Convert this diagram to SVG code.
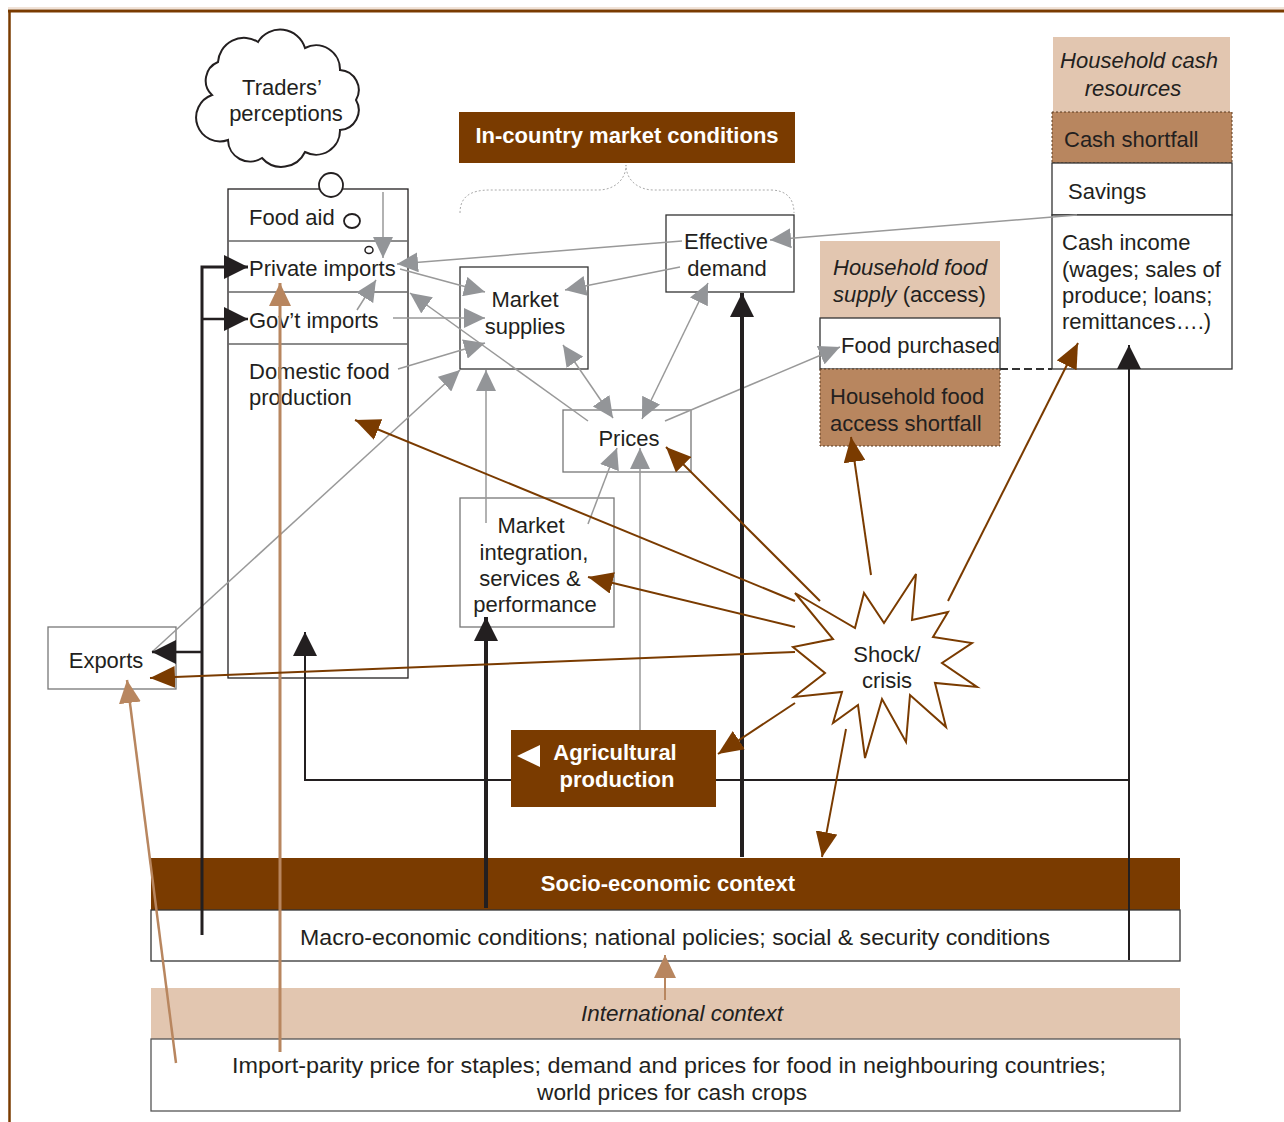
<svg xmlns="http://www.w3.org/2000/svg" width="1284" height="1122" viewBox="0 0 1284 1122">
<style>
text{font-family:"Liberation Sans",Arial,sans-serif;font-size:22px;fill:#231f20}
.b{font-weight:bold;fill:#fff}
.i{font-style:italic}
.box{fill:#fff;stroke:#333;stroke-width:1.3}
.gbox{fill:#fff;stroke:#777;stroke-width:1.3}
.div{stroke:#666;stroke-width:1.5}
.dk{fill:#7a3b00}
.tan{fill:#e2c6b0}
.mid{fill:#b8865f;stroke:#5a3a20;stroke-width:1;stroke-dasharray:2,2}
.g{stroke:#999;stroke-width:1.5;fill:none;marker-end:url(#ag)}
.g2{stroke:#999;stroke-width:1.5;fill:none;marker-end:url(#ag);marker-start:url(#ag)}
.k{stroke:#231f20;fill:none}
.br{stroke:#7a3b00;stroke-width:2;fill:none;marker-end:url(#ab)}
.t{stroke:#b8865f;fill:none;marker-end:url(#at)}
</style>
<defs>
<marker id="ag" markerUnits="userSpaceOnUse" markerWidth="22" markerHeight="20" refX="21" refY="10" orient="auto-start-reverse"><path d="M0,0 L21,10 L0,20 z" fill="#939598"/></marker>
<marker id="ak" markerUnits="userSpaceOnUse" markerWidth="24" markerHeight="24" refX="24" refY="12" orient="auto"><path d="M0,0 L24,12 L0,24 z" fill="#231f20"/></marker>
<marker id="ab" markerUnits="userSpaceOnUse" markerWidth="26" markerHeight="22" refX="25" refY="11" orient="auto"><path d="M0,0 L25,11 L0,22 z" fill="#7a3b00"/></marker>
<marker id="at" markerUnits="userSpaceOnUse" markerWidth="24" markerHeight="22" refX="23" refY="11" orient="auto"><path d="M0,0 L23,11 L0,22 z" fill="#b8865f"/></marker>
</defs>

<g id="frame">
<line x1="8" y1="8" x2="1284" y2="8" stroke="#e2c6b0" stroke-width="1"/>
<line x1="8" y1="11" x2="1284" y2="11" stroke="#7a3b00" stroke-width="3"/>
<line x1="9.5" y1="10" x2="9.5" y2="1122" stroke="#7a3b00" stroke-width="2.5"/>
</g>

<g id="traders-perceptions">
<path d="M212,95 A20,20 0 0 1 218,62 A26,26 0 0 1 258,42 A26,26 0 0 1 305,48 A24,24 0 0 1 340,70 A20,20 0 0 1 356,100 A20,20 0 0 1 340,130 A24,24 0 0 1 305,152 A26,26 0 0 1 262,158 A22,22 0 0 1 228,140 A22,22 0 0 1 212,95 z" fill="#fff" stroke="#231f20" stroke-width="2"/>
<text x="282" y="95" text-anchor="middle">Traders’</text>
<text x="286" y="121" text-anchor="middle">perceptions</text>
</g>

<g id="in-country-market-conditions">
<rect x="459" y="112" width="336" height="51" class="dk"/>
<text x="627" y="143" text-anchor="middle" class="b">In-country market conditions</text>
<path d="M460,213 C460,197 470,190 490,190 L598,190 C614,190 626,180 626,165 C626,180 638,190 654,190 L770,190 C786,190 794,198 794,213" fill="none" stroke="#aaa" stroke-width="1" stroke-dasharray="2,2"/>
</g>

<g id="food-column">
<rect x="228" y="189" width="180" height="489" fill="#fff" stroke="#231f20" stroke-width="1.3"/>
<line x1="228" y1="241" x2="408" y2="241" class="div"/>
<line x1="228" y1="292" x2="408" y2="292" class="div"/>
<line x1="228" y1="344" x2="408" y2="344" class="div"/>
<circle cx="331" cy="185" r="12" fill="#fff" stroke="#231f20" stroke-width="1.8"/>
<ellipse cx="352" cy="221" rx="8" ry="7" fill="none" stroke="#231f20" stroke-width="1.8"/>
<ellipse cx="369" cy="250" rx="4" ry="3.5" fill="none" stroke="#231f20" stroke-width="1.5"/>
<text x="249" y="225">Food aid</text>
<text x="249" y="276">Private imports</text>
<text x="249" y="328">Gov’t imports</text>
<text x="249" y="379">Domestic food</text>
<text x="249" y="405">production</text>
</g>

<g id="exports">
<rect x="48" y="627" width="128" height="62" class="gbox"/>
<text x="106" y="668" text-anchor="middle">Exports</text>
</g>

<g id="market-supplies">
<rect x="460" y="267" width="128" height="102" class="box"/>
<text x="525" y="307" text-anchor="middle">Market</text>
<text x="525" y="334" text-anchor="middle">supplies</text>
</g>

<g id="effective-demand">
<rect x="666" y="215" width="128" height="77" class="box"/>
<text x="726" y="249" text-anchor="middle">Effective</text>
<text x="727" y="276" text-anchor="middle">demand</text>
</g>

<g id="prices">
<rect x="563" y="410" width="128" height="62" class="gbox"/>
<text x="629" y="446" text-anchor="middle">Prices</text>
</g>

<g id="market-integration">
<rect x="460" y="498" width="154" height="129" class="gbox"/>
<text x="531" y="533" text-anchor="middle">Market</text>
<text x="534" y="560" text-anchor="middle">integration,</text>
<text x="530" y="586" text-anchor="middle">services &amp;</text>
<text x="535" y="612" text-anchor="middle">performance</text>
</g>

<g id="household-food-supply">
<rect x="820" y="241" width="180" height="77" class="tan"/>
<text x="833" y="275" class="i">Household food</text>
<text x="833" y="302"><tspan class="i">supply</tspan> (access)</text>
<rect x="820" y="318" width="180" height="51" class="box"/>
<text x="841" y="353">Food purchased</text>
<rect x="820" y="369" width="180" height="77" class="mid"/>
<text x="830" y="404">Household food</text>
<text x="830" y="431">access shortfall</text>
</g>

<g id="household-cash-resources">
<rect x="1053" y="37" width="177" height="75" class="tan"/>
<text x="1139" y="68" text-anchor="middle" class="i">Household cash</text>
<text x="1133" y="96" text-anchor="middle" class="i">resources</text>
<rect x="1052" y="112" width="180" height="51" class="mid"/>
<text x="1064" y="147">Cash shortfall</text>
<rect x="1052" y="163" width="180" height="52" class="box"/>
<text x="1068" y="199">Savings</text>
<rect x="1052" y="215" width="180" height="154" class="box"/>
<text x="1062" y="250">Cash income</text>
<text x="1062" y="277">(wages; sales of</text>
<text x="1062" y="303">produce; loans;</text>
<text x="1062" y="329">remittances….)</text>
</g>

<g id="agricultural-production">
<rect x="511" y="730" width="205" height="77" class="dk"/>
<path d="M517,756 L540,745 L540,767 z" fill="#fff"/>
<text x="615" y="760" text-anchor="middle" class="b">Agricultural</text>
<text x="617" y="787" text-anchor="middle" class="b">production</text>
</g>

<g id="shock-crisis">
<polygon points="795,593 855,628 864,593 884,623 916,574 912,620 948,612 933,637 972,643 942,663 977,687 935,683 946,727 910,695 906,742 882,699 865,758 858,705 833,723 842,692 794,697 825,673 793,647 833,639" fill="#fff" stroke="#7a3b00" stroke-width="2"/>
<text x="887" y="662" text-anchor="middle">Shock/</text>
<text x="887" y="688" text-anchor="middle">crisis</text>
</g>

<g id="socio-economic-context">
<rect x="151" y="858" width="1029" height="52" class="dk"/>
<text x="668" y="891" text-anchor="middle" class="b">Socio-economic context</text>
<rect x="151" y="910" width="1029" height="51" fill="#fff" stroke="#333" stroke-width="1.3"/>
<text x="675" y="945" text-anchor="middle" textLength="750" lengthAdjust="spacingAndGlyphs">Macro-economic conditions; national policies; social &amp; security conditions</text>
</g>

<g id="international-context">
<rect x="151" y="988" width="1029" height="51" class="tan"/>
<text x="682" y="1021" text-anchor="middle" class="i" textLength="202" lengthAdjust="spacingAndGlyphs">International context</text>
<rect x="151" y="1039" width="1029" height="72" fill="#fff" stroke="#555" stroke-width="1.3"/>
<text x="669" y="1073" text-anchor="middle" textLength="874" lengthAdjust="spacingAndGlyphs">Import-parity price for staples; demand and prices for food in neighbouring countries;</text>
<text x="672" y="1100" text-anchor="middle" textLength="270" lengthAdjust="spacingAndGlyphs">world prices for cash crops</text>
</g>

<g id="connectors">
<line x1="1000" y1="369" x2="1052" y2="369" stroke="#333" stroke-width="2" stroke-dasharray="8,4"/>
<!-- gray -->
<path class="g" d="M383,192 L383,258"/>
<path class="g" d="M1077,215 L770,240"/>
<path class="g" d="M682,241 L397,264"/>
<path class="g" d="M400,269 L485,292"/>
<path class="g" d="M680,267 L565,290"/>
<path class="g" d="M357,310 L376,280"/>
<path class="g" d="M393,318 L485,318"/>
<path class="g" d="M398,369 L485,343"/>
<path class="g" d="M152,652 L460,370"/>
<path class="g" d="M486,523 L486,370"/>
<path class="g" d="M588,421 L410,293"/>
<path class="g2" d="M563,345 L613,418"/>
<path class="g2" d="M708,283 L642,419"/>
<path class="g" d="M665,421 L840,347"/>
<path class="g" d="M588,524 L617,448"/>
<path class="g" d="M640,730 L640,448" stroke="#bbb"/>
<!-- black -->
<path class="k" stroke-width="3" d="M202,935 L202,267 L248,267" marker-end="url(#ak)"/>
<path class="k" stroke-width="2.5" d="M202,319 L248,319" marker-end="url(#ak)"/>
<path class="k" stroke-width="2.5" d="M202,652 L152,652" marker-end="url(#ak)"/>
<path class="k" stroke-width="2" d="M511,780 L305,780 L305,632" marker-end="url(#ak)"/>
<path class="k" stroke-width="2" d="M716,780 L1129,780"/>
<path class="k" stroke-width="2" d="M1129,960 L1129,345" marker-end="url(#ak)"/>
<path class="k" stroke-width="4" d="M486,908 L486,617" marker-end="url(#ak)"/>
<path class="k" stroke-width="4" d="M742,857 L742,293" marker-end="url(#ak)"/>
<!-- tan -->
<path class="t" stroke-width="3" d="M280,1052 L280,283"/>
<path class="t" stroke-width="2.5" d="M176,1063 L127,680"/>
<path class="t" stroke-width="2" d="M665,1000 L665,955"/>
<!-- brown from shock -->
<path class="br" d="M871,575 L851,437"/>
<path class="br" d="M948,601 L1078,343"/>
<path class="br" d="M820,601 L666,447"/>
<path class="br" d="M795,601 L355,420"/>
<path class="br" d="M795,627 L588,577"/>
<path class="br" d="M795,652 L150,678"/>
<path class="br" d="M795,703 L718,754"/>
<path class="br" d="M846,729 L822,857"/>
</g>
</svg>
